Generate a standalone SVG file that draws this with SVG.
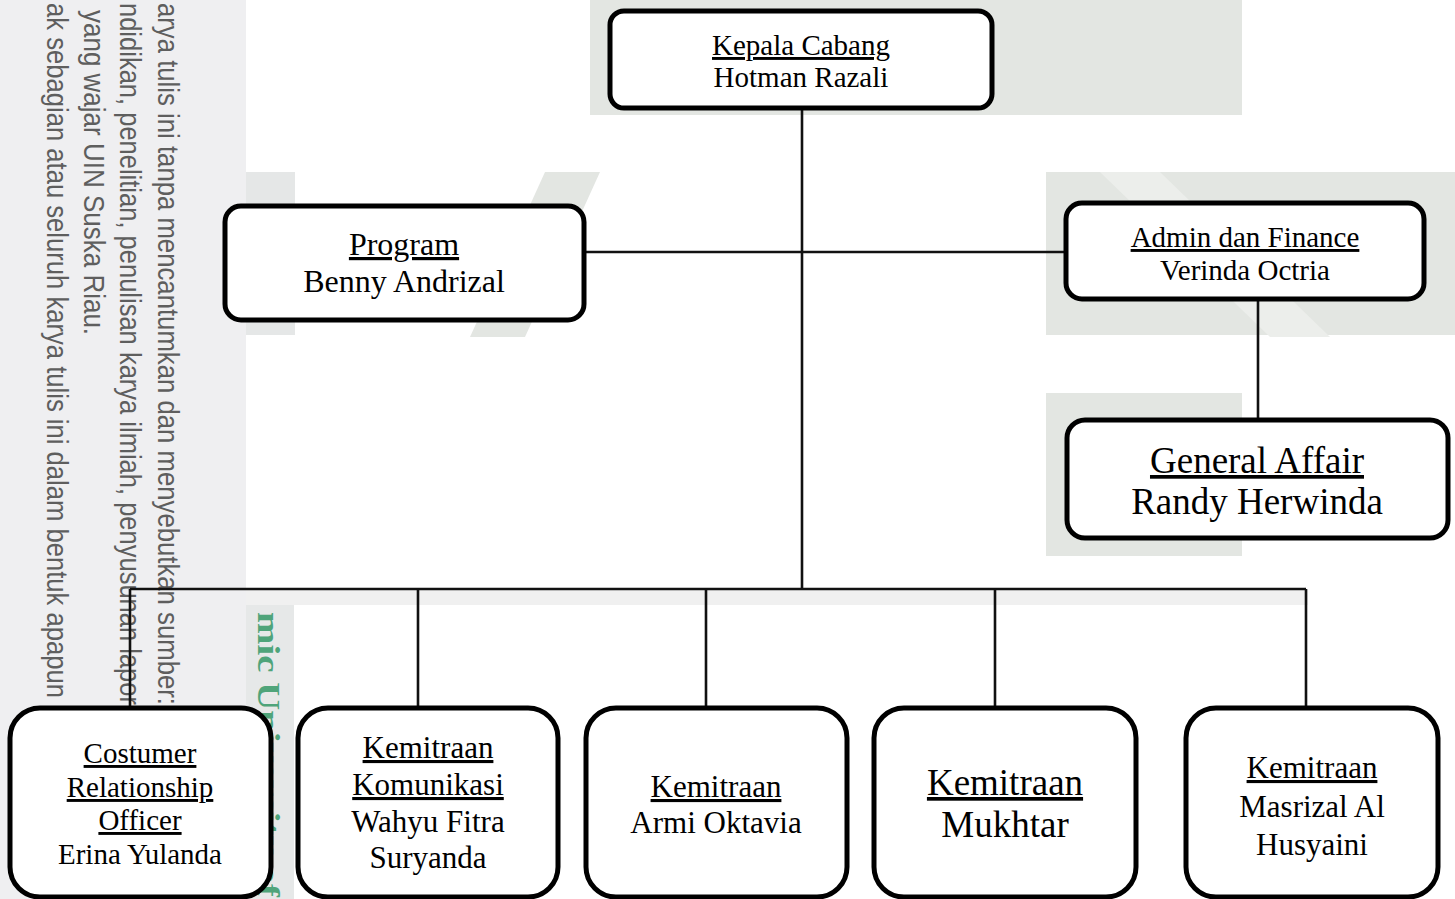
<svg xmlns="http://www.w3.org/2000/svg" width="1455" height="899" viewBox="0 0 1455 899">
<style>
.box{fill:#fff;stroke:#000;stroke-width:5}
.t{font-family:"Liberation Serif","Times New Roman",serif;fill:#000;text-anchor:middle}
.u{text-decoration:underline}
.con{fill:none;stroke:#111;stroke-width:2.6}
.strip{font-family:"Liberation Sans",Arial,sans-serif;font-size:26px;fill:#5e5e5e}
.wm{fill:#e3e6e2}
</style>
<g id="background">
<rect x="0" y="0" width="1455" height="899" fill="#fff"/>
<rect x="0" y="0" width="246" height="899" fill="#efeff1"/>
<rect class="wm" x="590" y="0" width="652" height="115"/>
<rect x="246" y="172" width="49" height="163" fill="#e5e7e7"/>
<polygon class="wm" points="545,172 600,172 525,337 470,337"/>
<rect class="wm" x="1046" y="172" width="409" height="163"/>
<polygon points="1100,172 1160,172 1330,337 1270,337" fill="#eceeeb"/>
<rect class="wm" x="1046" y="393" width="196" height="163"/>
<rect x="246" y="590" width="1062" height="15" fill="#f0f0f0"/>
<rect x="246" y="605" width="48" height="294" fill="#e6e8e8"/>
<text transform="translate(258,612) rotate(90)" x="0" y="0" font-family="Liberation Serif,serif" font-size="32" font-weight="bold" fill="#4fa47a" textLength="285" lengthAdjust="spacingAndGlyphs">mic University of</text>
<text class="strip" transform="translate(158,0) rotate(90) scale(1,1.1)" x="3" y="0" textLength="702" lengthAdjust="spacingAndGlyphs">arya tulis ini tanpa mencantumkan dan menyebutkan sumber:</text>
<text class="strip" transform="translate(120,0) rotate(90) scale(1,1.1)" x="3" y="0" textLength="702" lengthAdjust="spacingAndGlyphs">ndidikan, penelitian, penulisan karya ilmiah, penyusunan lapor</text>
<text class="strip" transform="translate(84,0) rotate(90) scale(1,1.1)" x="10" y="0">yang wajar UIN Suska Riau.</text>
<text class="strip" transform="translate(47,0) rotate(90) scale(1,1.1)" x="3" y="0" textLength="695" lengthAdjust="spacingAndGlyphs">ak sebagian atau seluruh karya tulis ini dalam bentuk apapun</text>
</g>
<g id="connectors">
<path class="con" d="M802,108 V589"/>
<path class="con" d="M584,252 H1066"/>
<path class="con" d="M1258,299 V420"/>
<path class="con" d="M130,589 H1306"/>
<path class="con" d="M130,589 V708 M418,589 V708 M706,589 V708 M995,589 V708 M1306,589 V708"/>
</g>
<g id="kepala-cabang">
<rect class="box" x="610" y="11" width="382" height="97" rx="14"/>
<text class="t u" x="801" y="55" font-size="29">Kepala Cabang</text>
<text class="t" x="801" y="87" font-size="29">Hotman Razali</text>
</g>
<g id="program">
<rect class="box" x="225" y="206" width="359" height="114" rx="16"/>
<text class="t u" x="404" y="255" font-size="32">Program</text>
<text class="t" x="404" y="292" font-size="32">Benny Andrizal</text>
</g>
<g id="admin-finance">
<rect class="box" x="1066" y="203" width="358" height="96" rx="16"/>
<text class="t u" x="1245" y="247" font-size="29">Admin dan Finance</text>
<text class="t" x="1245" y="280" font-size="29">Verinda Octria</text>
</g>
<g id="general-affair">
<rect class="box" x="1067" y="420" width="381" height="118" rx="18"/>
<text class="t u" x="1257" y="473" font-size="37">General Affair</text>
<text class="t" x="1257" y="514" font-size="37">Randy Herwinda</text>
</g>
<g id="costumer-relationship">
<rect class="box" x="10" y="708" width="261" height="189" rx="30"/>
<text class="t u" x="140" y="763" font-size="29">Costumer</text>
<text class="t u" x="140" y="797" font-size="29">Relationship</text>
<text class="t u" x="140" y="830" font-size="29">Officer</text>
<text class="t" x="140" y="864" font-size="29">Erina Yulanda</text>
</g>
<g id="kemitraan-komunikasi">
<rect class="box" x="298" y="708" width="260" height="189" rx="30"/>
<text class="t u" x="428" y="758" font-size="31">Kemitraan</text>
<text class="t u" x="428" y="795" font-size="31">Komunikasi</text>
<text class="t" x="428" y="832" font-size="31">Wahyu Fitra</text>
<text class="t" x="428" y="868" font-size="31">Suryanda</text>
</g>
<g id="kemitraan-armi">
<rect class="box" x="586" y="708" width="261" height="189" rx="30"/>
<text class="t u" x="716" y="797" font-size="31">Kemitraan</text>
<text class="t" x="716" y="833" font-size="31">Armi Oktavia</text>
</g>
<g id="kemitraan-mukhtar">
<rect class="box" x="874" y="708" width="262" height="189" rx="30"/>
<text class="t u" x="1005" y="795" font-size="37">Kemitraan</text>
<text class="t" x="1005" y="837" font-size="37">Mukhtar</text>
</g>
<g id="kemitraan-masrizal">
<rect class="box" x="1186" y="708" width="252" height="189" rx="30"/>
<text class="t u" x="1312" y="778" font-size="31">Kemitraan</text>
<text class="t" x="1312" y="817" font-size="31">Masrizal Al</text>
<text class="t" x="1312" y="855" font-size="31">Husyaini</text>
</g>
</svg>
